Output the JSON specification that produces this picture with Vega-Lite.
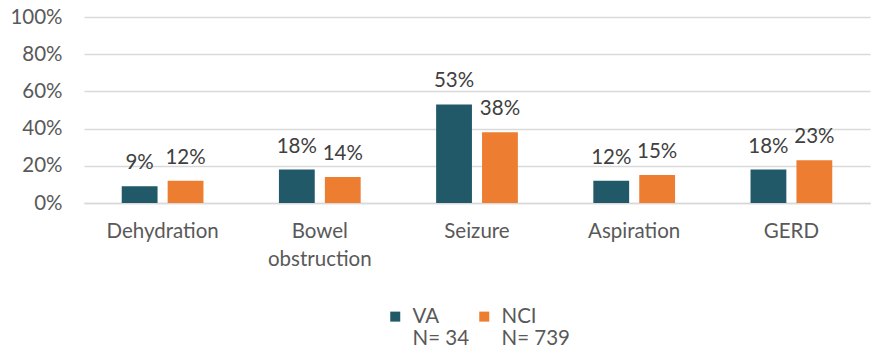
{
  "$schema": "https://vega.github.io/schema/vega-lite/v6.json",
  "autosize": {"type": "none"},
  "width": 786,
  "height": 186,
  "padding": {"left": 84, "top": 17, "right": 14, "bottom": 151},
  "background": "white",
  "config": {
    "font": "Lato",
    "view": {"stroke": null},
    "axis": {"labelFont": "Lato", "labelColor": "#595959", "labelFontSize": 20.5},
    "legend": {"labelFont": "Lato", "labelColor": "#595959", "labelFontSize": 20.5, "layout": {"bottom": {"anchor": "middle"}}}
  },
  "data": {
    "values": [
      {"category": "Dehydration", "group": "VA", "value": 0.09},
      {"category": "Dehydration", "group": "NCI", "value": 0.12},
      {"category": "Bowel obstruction", "group": "VA", "value": 0.18},
      {"category": "Bowel obstruction", "group": "NCI", "value": 0.14},
      {"category": "Seizure", "group": "VA", "value": 0.53},
      {"category": "Seizure", "group": "NCI", "value": 0.38},
      {"category": "Aspiration", "group": "VA", "value": 0.12},
      {"category": "Aspiration", "group": "NCI", "value": 0.15},
      {"category": "GERD", "group": "VA", "value": 0.18},
      {"category": "GERD", "group": "NCI", "value": 0.23}
    ]
  },
  "encoding": {
    "x": {
      "field": "category",
      "type": "nominal",
      "sort": null,
      "scale": {"paddingInner": 0.48, "paddingOuter": 0.24},
      "axis": {
        "title": null,
        "labelAngle": 0,
        "ticks": false,
        "domainColor": "#d9d9d9",
        "domainWidth": 1.5,
        "labelPadding": 18,
        "labelBaseline": "top",
        "labelLineHeight": 28,
        "labelExpr": "datum.label == 'Bowel obstruction' ? ['Bowel', 'obstruction'] : datum.label"
      }
    },
    "xOffset": {
      "field": "group",
      "type": "nominal",
      "sort": ["VA", "NCI"],
      "scale": {"paddingInner": 0.22, "paddingOuter": 0}
    },
    "y": {
      "field": "value",
      "type": "quantitative",
      "scale": {"domain": [0, 1]},
      "axis": {
        "title": null,
        "format": ".0%",
        "values": [0, 0.2, 0.4, 0.6, 0.8, 1],
        "labelOverlap": false,
        "ticks": false,
        "domain": false,
        "gridColor": "#d9d9d9",
        "gridWidth": 1.5,
        "labelPadding": 22
      }
    }
  },
  "layer": [
    {
      "mark": {"type": "bar"},
      "encoding": {
        "color": {
          "field": "group",
          "type": "nominal",
          "sort": ["VA", "NCI"],
          "scale": {"domain": ["VA", "NCI"], "range": ["#215968", "#ED7D31"]},
          "legend": {
            "title": null,
            "orient": "bottom",
            "direction": "horizontal",
            "symbolType": "square",
            "symbolSize": 100,
            "symbolStrokeWidth": 0,
            "labelOffset": 7,
            "columnPadding": 4,
            "offset": 36,
            "labelLineHeight": 27,
            "labelBaseline": "middle",
            "labelExpr": "datum.label == 'VA' ? ['VA', 'N= 34'] : ['NCI', 'N= 739']"
          }
        }
      }
    },
    {
      "mark": {"type": "text", "dy": -17, "baseline": "alphabetic", "fontSize": 20.5, "color": "#404040", "font": "Lato"},
      "encoding": {
        "text": {"field": "value", "type": "quantitative", "format": ".0%"}
      }
    }
  ]
}
